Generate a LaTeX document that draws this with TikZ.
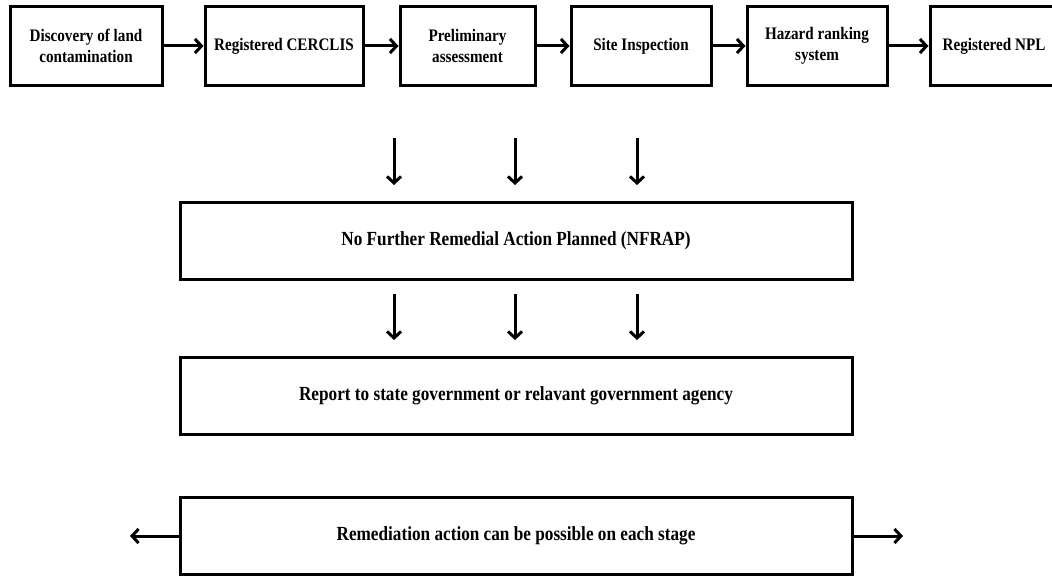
\documentclass[tikz,border=0pt]{standalone}
\usepackage{fontspec}
\setmainfont{Liberation Serif}[FakeStretch=0.86]
\usepackage{tikz}
\usetikzlibrary{arrows.meta}

\tikzset{
  stage/.style={draw, line width=3pt, minimum height=78pt, inner sep=0pt,
    align=center, font=\bfseries\fontsize{17.6}{21}\selectfont},
  widebox/.style={draw, line width=3pt, minimum width=672pt, minimum height=77pt,
    inner sep=0pt, font=\bfseries\fontsize{20}{23}\selectfont},
  flow/.style={line width=3pt, -{Straight Barb[length=6.5pt,width=14pt,line width=3pt]}}
}

\begin{document}
\begin{tikzpicture}[x=1pt, y=-1pt]
		\useasboundingbox (0,0) rectangle (1052,578);
		% top row
		\node[stage, minimum width=152pt] (disc) at (86,46) {Discovery of land\\contamination};
		\node[stage, minimum width=158pt] (cerc) at (284,46) {Registered CERCLIS};
		\node[stage, minimum width=135pt] (prel) at (467.5,46) {Preliminary\\assessment};
		\node[stage, minimum width=140pt] (site) at (641,46) {Site Inspection};
		\node[stage, minimum width=140pt] (hrs) at (817,46) {Hazard ranking\\system};
		\node[stage, minimum width=128pt] (npl) at (994,46) {Registered NPL};
		\draw[flow] (disc) -- (cerc);
		\draw[flow] (cerc) -- (prel);
		\draw[flow] (prel) -- (site);
		\draw[flow] (site) -- (hrs);
		\draw[flow] (hrs) -- (npl);
		% lower boxes
		\node[widebox] (nfrap) at (516,240.5) {No Further Remedial Action Planned (NFRAP)};
		\node[widebox] (report) at (516,396) {Report to state government or relavant government agency};
		\node[widebox] (remed) at (516,536) {Remediation action can be possible on each stage};
		% down arrows
		\foreach \i/\xx in {1/394, 2/515, 3/637} {
			\coordinate (a\i) at (\xx,138);
			\coordinate (b\i) at (\xx,185);
			\coordinate (c\i) at (\xx,294);
			\coordinate (d\i) at (\xx,340);
			\draw[flow] (a\i) -- (b\i);
			\draw[flow] (c\i) -- (d\i);
		}
		% side arrows
		\coordinate (lend) at (130,536);
		\coordinate (rend) at (903,536);
		\draw[flow] (remed.west) -- (lend);
		\draw[flow] (remed.east) -- (rend);
	\end{tikzpicture}
\end{document}
